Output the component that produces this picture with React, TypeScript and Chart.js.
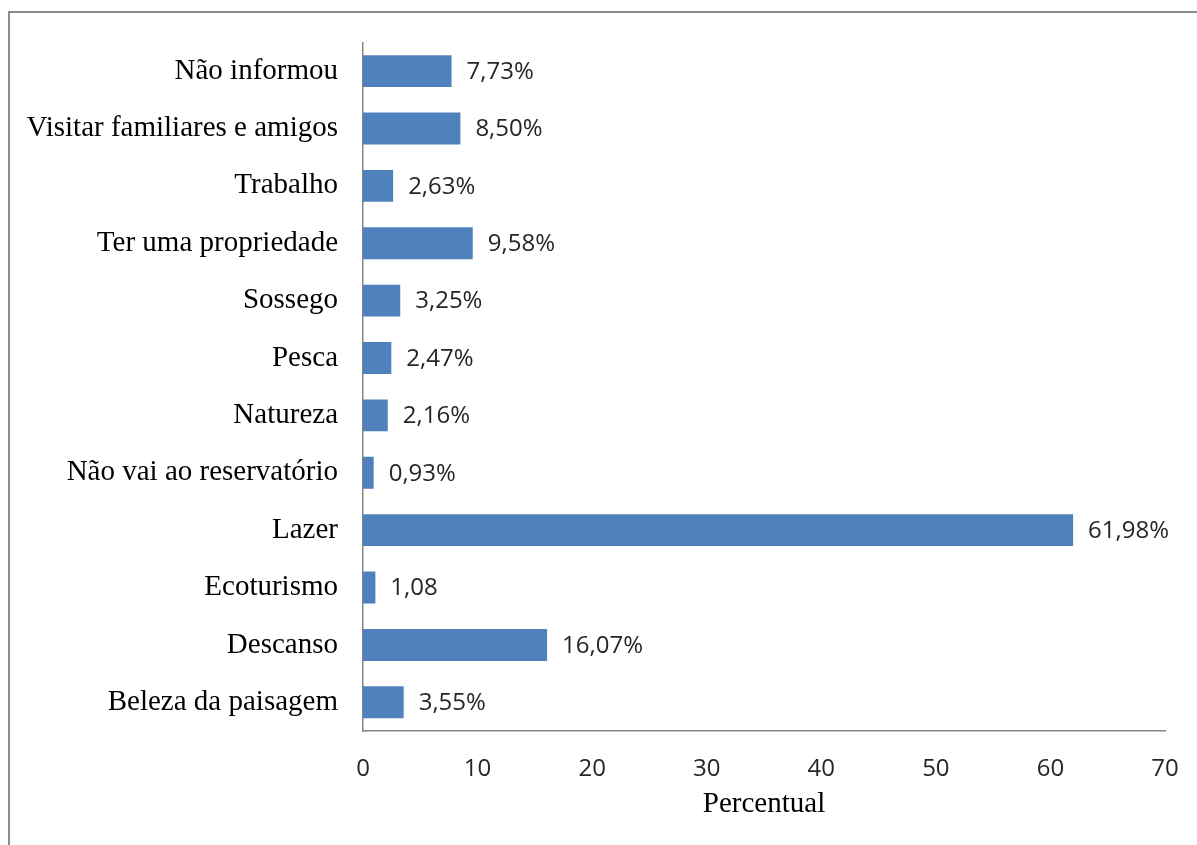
import React, { useEffect, useRef } from "react";
import { Chart, registerables } from "chart.js";

Chart.register(...registerables);

const categories = [
  "Não informou",
  "Visitar familiares e amigos",
  "Trabalho",
  "Ter uma propriedade",
  "Sossego",
  "Pesca",
  "Natureza",
  "Não vai ao reservatório",
  "Lazer",
  "Ecoturismo",
  "Descanso",
  "Beleza da paisagem",
];

const values = [7.73, 8.5, 2.63, 9.58, 3.25, 2.47, 2.16, 0.93, 61.98, 1.08, 16.07, 3.55];

const valueLabels = [
  "7,73%",
  "8,50%",
  "2,63%",
  "9,58%",
  "3,25%",
  "2,47%",
  "2,16%",
  "0,93%",
  "61,98%",
  "1,08",
  "16,07%",
  "3,55%",
];

const xTicks = [0, 10, 20, 30, 40, 50, 60, 70];
const axisTitle = "Percentual";

const valueLabelPlugin = {
  id: "valueLabels",
  afterDatasetsDraw(chart: any) {
    const ctx = chart.ctx;
    const meta = chart.getDatasetMeta(0);
    ctx.save();
    ctx.font = "24px 'Open Sans'";
    ctx.fillStyle = "#262626";
    ctx.textAlign = "left";
    ctx.textBaseline = "middle";
    meta.data.forEach((bar: any, i: number) => {
      ctx.fillText(valueLabels[i], bar.x + 15, bar.y + 1);
    });
    ctx.restore();
  },
};

export default function App() {
  const ref = useRef<HTMLCanvasElement>(null);

  useEffect(() => {
    if (!ref.current) return;
    const chart = new Chart(ref.current, {
      type: "bar",
      data: {
        labels: categories,
        datasets: [
          {
            data: values,
            backgroundColor: "#4F81BD",
            borderWidth: 0,
            categoryPercentage: 1,
            barPercentage: 0.556,
          },
        ],
      },
      options: {
        indexAxis: "y",
        responsive: false,
        animation: false,
        layout: { padding: { left: 0, top: 40, right: 32, bottom: 0 } },
        plugins: {
          legend: { display: false },
          tooltip: { enabled: false },
        },
        scales: {
          x: {
            min: 0,
            max: 70,
            afterBuildTicks(scale: any) {
              scale.ticks = xTicks.map((v) => ({ value: v }));
            },
            afterFit(scale: any) {
              scale.height = 114;
              scale.paddingLeft = 0;
              scale.paddingRight = 0;
            },
            grid: { display: false, drawTicks: false },
            border: { display: true, color: "#868686", width: 1.5 },
            ticks: {
              padding: 24,
              color: "#262626",
              font: { family: "'Open Sans'", size: 24 },
            },
            title: {
              display: true,
              text: axisTitle,
              color: "#000",
              font: { family: "'Liberation Serif'", size: 29 },
              padding: { top: 0, bottom: 23 },
            },
          },
          y: {
            afterFit(scale: any) {
              scale.width = 363;
            },
            grid: { display: false, drawTicks: false },
            border: { display: true, color: "#868686", width: 1.5 },
            ticks: {
              padding: 25,
              color: "#000",
              font: { family: "'Liberation Serif'", size: 29 },
            },
          },
        },
      },
      plugins: [valueLabelPlugin],
    });
    return () => chart.destroy();
  }, []);

  return (
    <div
      style={{
        position: "fixed",
        left: 0,
        top: 0,
        width: 1197,
        height: 845,
        overflow: "hidden",
        background: "#fff",
      }}
    >
      <div
        style={{
          position: "absolute",
          left: 8,
          top: 11,
          width: 1300,
          height: 1000,
          border: "2px solid #8c8c8c",
        }}
      />
      <canvas
        ref={ref}
        width={1197}
        height={845}
        style={{ position: "absolute", left: 0, top: 0 }}
      />
    </div>
  );
}
